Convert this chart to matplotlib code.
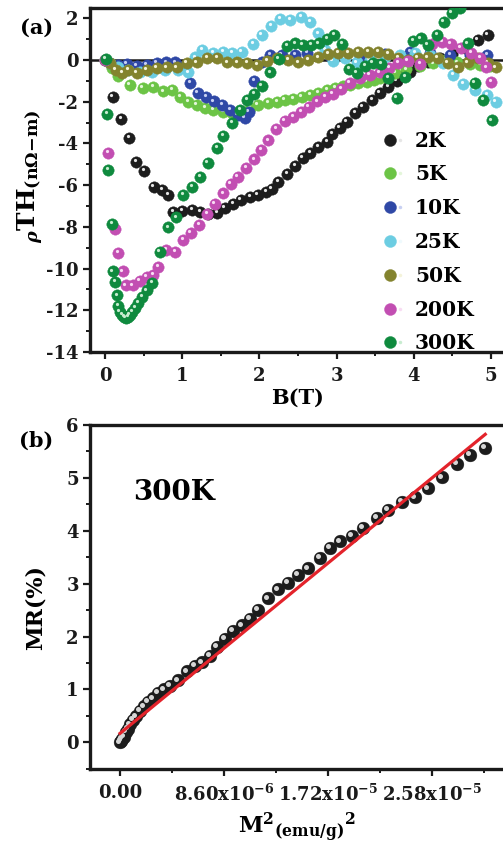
import numpy as np
import matplotlib
matplotlib.use('Agg')
import matplotlib.pyplot as plt
from matplotlib.transforms import offset_copy
from matplotlib.lines import Line2D
from matplotlib.legend_handler import HandlerTuple
from matplotlib.ticker import MultipleLocator, FixedLocator

plt.rcParams['font.family'] = ['DejaVu Serif']
plt.rcParams['font.weight'] = 'bold'
plt.rcParams['axes.labelweight'] = 'bold'
plt.rcParams['mathtext.fontset'] = 'dejavuserif'
plt.rcParams['axes.unicode_minus'] = False

# ---------------- data: panel (a) ----------------
B_2K = [0.00, 0.10, 0.21, 0.31, 0.40, 0.51, 0.63, 0.74, 0.82, 0.88, 1.00, 1.13, 1.23, 1.33, 1.45,
        1.55, 1.66, 1.76, 1.88, 1.98, 2.09, 2.16, 2.24, 2.36, 2.46, 2.56, 2.66, 2.76, 2.88, 2.94,
        3.04, 3.13, 3.24, 3.34, 3.46, 3.56, 3.67, 3.78, 3.86, 3.95, 4.05, 4.18, 4.34, 4.49, 4.66,
        4.83, 4.96]
rho_2K = [0.00, -1.77, -2.83, -3.74, -4.89, -5.32, -6.09, -6.23, -6.47, -7.29, -7.24, -7.19, -7.29,
          -7.38, -7.33, -7.09, -6.90, -6.71, -6.57, -6.47, -6.33, -6.18, -5.85, -5.46, -5.08, -4.70,
          -4.46, -4.17, -3.93, -3.55, -3.26, -2.97, -2.54, -2.25, -1.92, -1.58, -1.29, -1.01, -0.77,
          -0.58, -0.29, -0.10, 0.10, 0.29, 0.58, 0.96, 1.20]

B_5K = [0.00, 0.09, 0.17, 0.32, 0.49, 0.62, 0.75, 0.87, 0.97, 1.08, 1.19, 1.30, 1.40, 1.53, 1.65,
        1.75, 1.88, 1.98, 2.11, 2.23, 2.33, 2.44, 2.55, 2.66, 2.76, 2.88, 2.98, 3.08, 3.17, 3.28,
        3.39, 3.48, 3.56, 3.66, 3.76, 3.90, 4.08, 4.25, 4.40, 4.56, 4.73, 4.86, 4.99]
rho_5K = [0.00, -0.38, -0.77, -1.20, -1.34, -1.29, -1.49, -1.44, -1.77, -2.01, -2.16, -2.30, -2.40,
          -2.49, -2.54, -2.49, -2.30, -2.16, -2.06, -2.01, -1.92, -1.87, -1.77, -1.68, -1.58, -1.44,
          -1.34, -1.27, -1.20, -1.12, -1.05, -0.95, -0.86, -0.74, -0.62, -0.45, -0.29, -0.15, 0.00,
          -0.10, -0.19, -0.24, -0.29]

B_10K = [0.00, 0.06, 0.17, 0.28, 0.41, 0.54, 0.67, 0.79, 0.91, 1.01, 1.10, 1.20, 1.31, 1.41, 1.52,
         1.62, 1.72, 1.81, 1.86, 1.93, 2.03, 2.14, 2.29, 2.46, 2.62, 2.91, 3.30, 3.63, 3.95, 4.21,
         4.47, 4.73, 4.95]
rho_10K = [0.00, -0.14, -0.24, -0.19, -0.29, -0.24, -0.14, -0.10, -0.10, -0.34, -1.10, -1.58, -1.77,
           -1.97, -2.16, -2.40, -2.64, -2.78, -2.49, -1.00, -0.10, 0.24, 0.24, 0.24, 0.34, 0.19, 0.19,
           0.29, 0.38, 0.34, 0.24, 0.24, 0.24]

B_25K = [0.00, 0.06, 0.17, 0.30, 0.45, 0.61, 0.78, 0.95, 1.08, 1.17, 1.26, 1.40, 1.53, 1.65, 1.77,
         1.92, 2.03, 2.15, 2.27, 2.40, 2.54, 2.66, 2.76, 2.85, 2.95, 3.11, 3.26, 3.43, 3.63, 3.82,
         4.02, 4.21, 4.38, 4.51, 4.64, 4.79, 4.95, 5.06]
rho_25K = [0.00, -0.14, -0.34, -0.48, -0.58, -0.58, -0.48, -0.48, -0.58, 0.14, 0.48, 0.34, 0.38,
           0.34, 0.38, 0.77, 1.20, 1.63, 1.97, 1.92, 2.06, 1.82, 1.29, 0.48, -0.05, 0.10, -0.10,
           0.00, 0.14, 0.24, 0.34, 0.24, -0.14, -0.72, -1.15, -1.44, -1.68, -2.01]

B_50K = [0.00, 0.06, 0.14, 0.22, 0.30, 0.41, 0.54, 0.67, 0.80, 0.93, 1.06, 1.19, 1.32, 1.45, 1.58,
         1.71, 1.84, 1.97, 2.10, 2.23, 2.37, 2.50, 2.63, 2.76, 2.89, 3.02, 3.15, 3.28, 3.41, 3.54,
         3.67, 3.80, 3.92, 4.05, 4.18, 4.31, 4.44, 4.57, 4.70, 4.83, 4.96, 5.06]
rho_50K = [0.00, -0.14, -0.48, -0.62, -0.48, -0.62, -0.48, -0.38, -0.34, -0.34, -0.14, -0.10, 0.10,
           0.10, -0.10, -0.10, -0.14, -0.24, -0.05, 0.10, 0.00, -0.10, 0.00, 0.14, 0.29, 0.34, 0.34,
           0.38, 0.38, 0.38, 0.29, 0.10, 0.00, 0.10, 0.14, 0.10, -0.14, -0.34, -0.10, 0.10, -0.14,
           -0.34]

B_200K = [0.00, 0.04, 0.13, 0.17, 0.23, 0.27, 0.36, 0.45, 0.54, 0.62, 0.69, 0.79, 0.91, 1.01, 1.11,
          1.22, 1.32, 1.42, 1.53, 1.63, 1.72, 1.83, 1.93, 2.02, 2.11, 2.22, 2.33, 2.44, 2.54, 2.64,
          2.75, 2.85, 2.95, 3.06, 3.17, 3.30, 3.43, 3.56, 3.68, 3.80, 3.92, 4.08, 4.24, 4.37, 4.48,
          4.61, 4.74, 4.86, 4.94, 5.00]
rho_200K = [0.00, -4.46, -8.10, -9.25, -10.12, -10.79, -10.79, -10.59, -10.40, -10.31, -9.92, -9.11,
            -9.20, -8.63, -8.29, -7.91, -7.38, -6.90, -6.38, -5.94, -5.61, -5.18, -4.75, -4.31,
            -3.84, -3.31, -2.92, -2.73, -2.49, -2.25, -1.97, -1.77, -1.63, -1.39, -1.10, -0.86,
            -0.72, -0.58, -0.38, -0.14, -0.05, -0.19, 0.77, 0.86, 0.77, 0.58, 0.34, 0.10, -0.34,
            -1.05]

B_300K = [0.01, 0.03, 0.04, 0.09, 0.10, 0.13, 0.16, 0.17, 0.19, 0.22, 0.25, 0.27, 0.30, 0.32, 0.35,
          0.39, 0.43, 0.48, 0.54, 0.61, 0.71, 0.82, 0.92, 1.01, 1.13, 1.23, 1.33, 1.45, 1.53, 1.65,
          1.75, 1.84, 1.93, 2.03, 2.14, 2.25, 2.36, 2.46, 2.56, 2.67, 2.77, 2.88, 2.97, 3.07, 3.16,
          3.26, 3.37, 3.47, 3.58, 3.67, 3.78, 3.89, 3.99, 4.09, 4.18, 4.30, 4.39, 4.49, 4.60, 4.70,
          4.79, 4.90, 5.01]
rho_300K = [0.05, -2.59, -5.27, -7.86, -10.12, -10.64, -11.27, -11.79, -12.08, -12.22, -12.32,
            -12.37, -12.32, -12.22, -12.08, -11.89, -11.65, -11.36, -11.03, -10.69, -9.20, -8.01,
            -7.53, -6.47, -6.09, -5.61, -4.94, -4.22, -3.64, -3.02, -2.40, -1.92, -1.63, -1.25,
            -0.58, 0.05, 0.67, 0.81, 0.72, 0.72, 0.81, 1.01, 1.20, 0.77, -0.43, -0.62, -0.29, -0.14,
            -0.19, -0.86, -1.82, -0.81, 0.91, 1.05, 0.72, 1.20, 1.82, 2.25, 2.49, 0.81, -1.10, -1.92,
            -2.88]

temps = ['2K', '5K', '10K', '25K', '50K', '200K', '300K']
B_all = [B_2K, B_5K, B_10K, B_25K, B_50K, B_200K, B_300K]
rho_all = [rho_2K, rho_5K, rho_10K, rho_25K, rho_50K, rho_200K, rho_300K]
colors = ['#1d1d1d', '#6cc446', '#2f48a6', '#6ccde2', '#83832e', '#c24eb2', '#0f8a3e']
highlights = ['#e6e6e6', '#e4f6da', '#c8d0f2', '#effafd', '#f4f3da', '#f8dcf3', '#c8ecd0']

a_xticks = [0, 1, 2, 3, 4, 5]
a_yticks = [-14, -12, -10, -8, -6, -4, -2, 0, 2]

# ---------------- data: panel (b) ----------------
M2_e6 = [0, 0.08, 0.17, 0.33, 0.50, 0.66, 0.83, 1.08, 1.32, 1.65, 1.99, 2.32, 2.73, 3.14, 3.64,
         4.14, 4.80, 5.54, 6.20, 6.78, 7.44, 8.02, 8.68, 9.34, 10.09, 10.75, 11.41, 12.24, 13.07,
         13.89, 14.72, 15.55, 16.54, 17.37, 18.19, 19.18, 20.09, 21.25, 22.16, 23.32, 24.39, 25.47,
         26.63, 27.87, 28.94, 30.18]
MR = [0, 0.02, 0.06, 0.11, 0.19, 0.26, 0.34, 0.42, 0.49, 0.59, 0.68, 0.76, 0.83, 0.93, 1.00, 1.06,
      1.17, 1.34, 1.44, 1.51, 1.64, 1.80, 1.95, 2.10, 2.21, 2.34, 2.50, 2.72, 2.89, 3.02, 3.16,
      3.29, 3.48, 3.67, 3.80, 3.91, 4.06, 4.25, 4.39, 4.54, 4.63, 4.80, 5.01, 5.27, 5.43, 5.56]
fit_intercept = 0.17
fit_slope = 1.872e5
fit_xrange = [0.0, 3.02e-5]
b_xticks = [0.0, 8.6e-6, 1.72e-5, 2.58e-5]
b_xticklabels = ['0.00', r'$\mathbf{8.60x10^{-6}}$', r'$\mathbf{1.72x10^{-5}}$',
                 r'$\mathbf{2.58x10^{-5}}$']
b_yticks = [0, 1, 2, 3, 4, 5, 6]

# ---------------- figure ----------------
W, H = 503, 843
fig = plt.figure(figsize=(W / 100, H / 100), dpi=100)
ax1 = fig.add_axes([89.6 / W, (H - 352) / H, 416.8 / W, 344.2 / H])
ax2 = fig.add_axes([89.8 / W, (H - 768.8) / H, 414.8 / W, 343.8 / H])

ms = 8.2
hl_tr = offset_copy(ax1.transData, fig=fig, x=-1.0, y=1.1, units='points')
ax1.axhline(0, color='#1a1a1a', lw=1.8, zorder=1)
for i, (Bv, rv, c, hc) in enumerate(zip(B_all, rho_all, colors, highlights)):
    ax1.plot(Bv, rv, ls='none', marker='o', ms=ms, mfc=c, mec=c, mew=0.3, zorder=2 + i)
    ax1.plot(Bv, rv, ls='none', marker='o', ms=2.3, mfc=hc, mec='none', zorder=2 + i,
             transform=hl_tr)

ax1.set_xlim(-0.2, 5.2)
ax1.set_ylim(-14, 2.5)
ax1.xaxis.set_major_locator(FixedLocator(a_xticks))
ax1.yaxis.set_major_locator(FixedLocator(a_yticks))
ax1.xaxis.set_minor_locator(MultipleLocator(0.5))
ax1.yaxis.set_minor_locator(MultipleLocator(1))
ax1.set_xlabel('B(T)', fontsize=15, labelpad=2)
ax1.set_ylabel(r'${}_{\rho}\mathbf{TH}_{\mathbf{(n\Omega{-}m)}}$', fontsize=18)
ax1.yaxis.set_label_coords(-0.105, 0.51)

handles = []
for c, hc in zip(colors, highlights):
    base = Line2D([], [], ls='none', marker='o', ms=8.6, mfc=c, mec=c, mew=0.3)
    hl = Line2D([], [], ls='none', marker='o', ms=2.5, mfc=hc, mec='none')
    handles.append((base, hl))
ax1.legend(handles, temps, handler_map={tuple: HandlerTuple(ndivide=None)},
           loc='upper left', bbox_to_anchor=(0.708, 0.643), frameon=False,
           prop={'size': 14.5, 'weight': 'bold'}, handlelength=1.0, handletextpad=0.5,
           labelspacing=0.685, borderpad=0, borderaxespad=0)

# panel (b)
M2 = np.array(M2_e6) * 1e-6
hl_tr2 = offset_copy(ax2.transData, fig=fig, x=-1.2, y=1.3, units='points')
ax2.plot(M2, MR, ls='none', marker='o', ms=9.2, mfc='#1c1c1c', mec='#1c1c1c', mew=0.3, zorder=2)
ax2.plot(M2, MR, ls='none', marker='o', ms=3.6, mfc='#d6d6d6', mec='none', zorder=3,
         transform=hl_tr2)
fx = np.array(fit_xrange)
ax2.plot(fx, fit_intercept + fit_slope * fx, color='#e3232b', lw=2.3, zorder=4)

ax2.set_xlim(-2.5e-6, 3.18e-5)
ax2.set_ylim(-0.5, 6)
ax2.xaxis.set_major_locator(FixedLocator(b_xticks))
ax2.set_xticklabels(b_xticklabels)
ax2.xaxis.set_minor_locator(MultipleLocator(4.3e-6))
ax2.yaxis.set_major_locator(FixedLocator(b_yticks))
ax2.yaxis.set_minor_locator(MultipleLocator(0.5))
ax2.set_xlabel(r'$\mathbf{M}^{\mathbf{2}}{}_{\mathbf{(emu/g)}}{}^{\mathbf{2}}$', fontsize=16,
               labelpad=4)
ax2.set_ylabel('MR(%)', fontsize=16)
ax2.yaxis.set_label_coords(-0.105, 0.47)
ax2.text(0.203, 0.805, '300K', transform=ax2.transAxes, fontsize=20, fontweight='bold',
         ha='center', va='center')

for ax in (ax1, ax2):
    for sp in ax.spines.values():
        sp.set_linewidth(2.4)
        sp.set_color('#1a1a1a')
    ax.tick_params(which='major', direction='out', length=5, width=1.6, labelsize=13,
                   colors='#1a1a1a')
    ax.tick_params(which='minor', direction='out', length=3, width=1.4, colors='#1a1a1a')
    ax.tick_params(axis='x', which='major', pad=6)
    ax.tick_params(axis='y', which='major', pad=3)

fig.text(37 / W, 1 - 28 / H, '(a)', fontsize=15, fontweight='bold', ha='center', va='center')
fig.text(36 / W, 1 - 441 / H, '(b)', fontsize=15, fontweight='bold', ha='center', va='center')

fig.savefig('out.png', dpi=100)
